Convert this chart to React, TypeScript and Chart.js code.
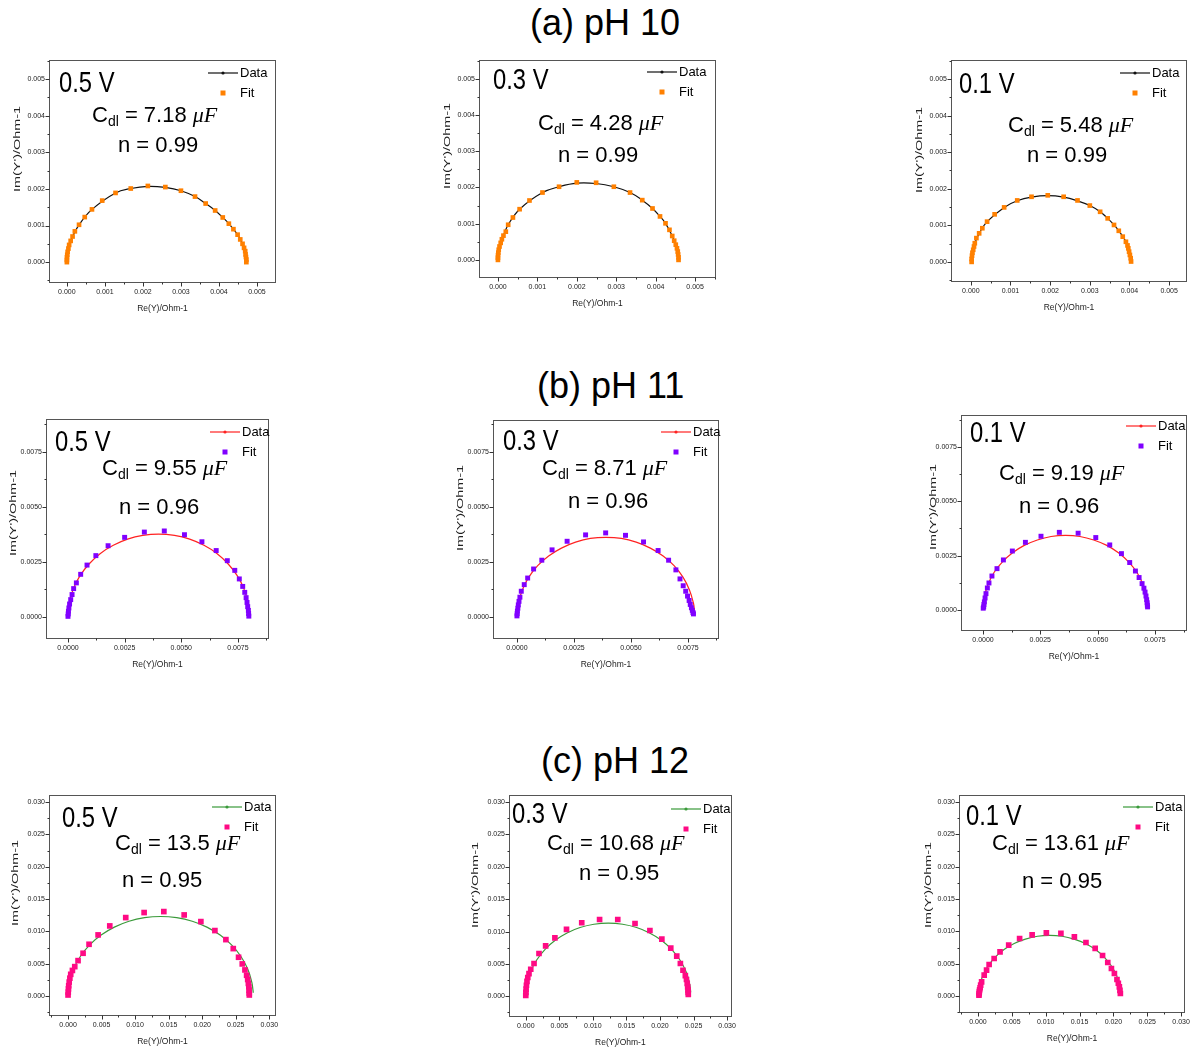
import { useEffect, useRef } from "react";
import { Chart, registerables } from "chart.js";

Chart.register(...registerables);

type Pt = [number, number];

const SANS = "'Liberation Sans', Arial, Helvetica, sans-serif";
const SERIF = "'Liberation Serif', 'Times New Roman', serif";

// ---------- (a) pH 10 : admittance data and fit, [Re(Y), Im(Y)] ----------
const ph10V05Data: Pt[] = [
  [0, 0], [0.000003, 0.00013], [0.00002, 0.00028], [0.00006, 0.00047], [0.00015, 0.0007],
  [0.00032, 0.00102], [0.00066, 0.00144], [0.00128, 0.00189], [0.00168, 0.00201], [0.00213, 0.00207],
  [0.00259, 0.00204], [0.003, 0.00195], [0.00337, 0.00179], [0.00365, 0.0016], [0.0039, 0.00141],
  [0.0041, 0.00122], [0.00426, 0.00105], [0.00449, 0.00075], [0.00462, 0.0005], [0.00469, 0.0003],
  [0.00471, 0.00014], [0.00472, 0],
];
const ph10V05Fit: Pt[] = [
  [0, 0], [0, 0.00006], [0.000003, 0.00013], [0.00001, 0.0002], [0.00002, 0.00028], [0.00004, 0.00037],
  [0.00006, 0.00047], [0.0001, 0.00058], [0.00015, 0.0007], [0.00021, 0.00084], [0.00032, 0.00102],
  [0.00047, 0.00123], [0.00066, 0.00144], [0.00093, 0.00168], [0.00128, 0.00189], [0.00168, 0.00201],
  [0.00213, 0.00208], [0.00259, 0.00205], [0.003, 0.00195], [0.00337, 0.00179], [0.00365, 0.0016],
  [0.0039, 0.00141], [0.0041, 0.00122], [0.00426, 0.00105], [0.00438, 0.0009], [0.00449, 0.00075],
  [0.00456, 0.00062], [0.00462, 0.0005], [0.00466, 0.00039], [0.00469, 0.0003], [0.0047, 0.00021],
  [0.00471, 0.00014], [0.00472, 0.00007], [0.00472, 0],
];

const ph10V03Data: Pt[] = [
  [0, 0], [0.000003, 0.00013], [0.00002, 0.00028], [0.00007, 0.00047], [0.00014, 0.00067],
  [0.00026, 0.00097], [0.00055, 0.0014], [0.00113, 0.00186], [0.00155, 0.00202], [0.002, 0.00212],
  [0.00249, 0.00211], [0.00294, 0.00202], [0.00335, 0.00186], [0.00366, 0.00165], [0.00392, 0.00142],
  [0.00411, 0.0012], [0.00425, 0.00101], [0.00442, 0.00066], [0.00451, 0.00042], [0.00456, 0.00023],
  [0.00458, 0.00007], [0.00458, 0],
];
const ph10V03Fit: Pt[] = [
  [0, 0], [0, 0.00006], [0.000003, 0.00013], [0.00001, 0.0002], [0.00002, 0.00028], [0.00004, 0.00037],
  [0.00007, 0.00047], [0.0001, 0.00057], [0.00014, 0.00067], [0.0002, 0.00078], [0.00026, 0.00097],
  [0.00038, 0.00117], [0.00055, 0.0014], [0.0008, 0.00164], [0.00113, 0.00186], [0.00155, 0.00202],
  [0.002, 0.00214], [0.00249, 0.00213], [0.00294, 0.00202], [0.00335, 0.00186], [0.00366, 0.00165],
  [0.00392, 0.00142], [0.00411, 0.0012], [0.00425, 0.00101], [0.00435, 0.00083], [0.00442, 0.00066],
  [0.00447, 0.00053], [0.00451, 0.00042], [0.00454, 0.00032], [0.00456, 0.00023], [0.00457, 0.00015],
  [0.00458, 0.00007], [0.00458, 0],
];

const ph10V01Data: Pt[] = [
  [0.00001, 0], [0.00002, 0.00008], [0.00004, 0.00025], [0.0001, 0.00051], [0.00021, 0.00078],
  [0.00041, 0.0011], [0.00084, 0.00149], [0.00117, 0.00167], [0.00153, 0.00177], [0.00194, 0.00181],
  [0.00234, 0.00177], [0.00269, 0.00167], [0.003, 0.00154], [0.00326, 0.00137], [0.00345, 0.00119],
  [0.00361, 0.00101], [0.00373, 0.00085], [0.00391, 0.00055], [0.00399, 0.00028], [0.00403, 0.0001],
  [0.00404, 0],
];
const ph10V01Fit: Pt[] = [
  [0.00002, 0], [0.00002, 0.00008], [0.00003, 0.00017], [0.00004, 0.00025], [0.00006, 0.00033],
  [0.00008, 0.00042], [0.0001, 0.00051], [0.00014, 0.00065], [0.00021, 0.00078], [0.00029, 0.00092],
  [0.00041, 0.0011], [0.0006, 0.0013], [0.00084, 0.00149], [0.00117, 0.00168], [0.00153, 0.00178],
  [0.00194, 0.00182], [0.00234, 0.00178], [0.00269, 0.00168], [0.003, 0.00154], [0.00326, 0.00137],
  [0.00345, 0.00119], [0.00361, 0.00101], [0.00373, 0.00085], [0.00383, 0.00069], [0.00391, 0.00055],
  [0.00395, 0.00045], [0.00397, 0.00037], [0.00399, 0.00028], [0.00401, 0.00019], [0.00403, 0.0001],
  [0.00404, 0.00001],
];

// ---------- (b) pH 11 ----------
const ph11V05Data: Pt[] = [
  [0, 0], [0.000015, 0.00033], [0.00006, 0.00065], [0.00024, 0.00129], [0.00054, 0.00189],
  [0.00094, 0.00242], [0.00143, 0.00289], [0.002, 0.00326], [0.00263, 0.00354], [0.0033, 0.00371],
  [0.004, 0.00377], [0.0047, 0.00371], [0.00537, 0.00354], [0.006, 0.00326], [0.00657, 0.00289],
  [0.00706, 0.00242], [0.00746, 0.00189], [0.00776, 0.00129], [0.00794, 0.00065], [0.00798, 0.00033],
  [0.008, 0],
];
const ph11V05Fit: Pt[] = [
  [0, 0.00003], [0.00001, 0.00014], [0.00002, 0.00026], [0.00004, 0.00041], [0.00007, 0.00059],
  [0.00012, 0.00079], [0.00018, 0.00102], [0.00025, 0.00129], [0.00037, 0.00155], [0.00056, 0.00194],
  [0.00084, 0.00236], [0.00123, 0.00279], [0.00177, 0.00324], [0.0025, 0.00362], [0.00337, 0.00386],
  [0.00425, 0.00391], [0.00514, 0.00374], [0.00591, 0.00342], [0.00654, 0.00302], [0.00703, 0.00256],
  [0.00736, 0.00212], [0.00756, 0.00173], [0.00771, 0.00139], [0.0078, 0.00112], [0.00786, 0.00088],
  [0.0079, 0.00066], [0.00793, 0.00047], [0.00796, 0.0003], [0.00797, 0.00016], [0.00798, 0.00004],
];

const ph11V03Data: Pt[] = [
  [0, 0], [0.000015, 0.00032], [0.00006, 0.00063], [0.00024, 0.00124], [0.00052, 0.00181],
  [0.00091, 0.00233], [0.00139, 0.00277], [0.00195, 0.00313], [0.00257, 0.0034], [0.00322, 0.00357],
  [0.0039, 0.00362], [0.00458, 0.00357], [0.00523, 0.0034], [0.00585, 0.00313], [0.00641, 0.00277],
  [0.00689, 0.00233], [0.00728, 0.00181], [0.00756, 0.00124], [0.00774, 0.00063], [0.00778, 0.00032],
  [0.00779, 0.00018],
];
const ph11V03Fit: Pt[] = [
  [0, 0.00005], [0.00001, 0.00015], [0.00002, 0.00027], [0.00004, 0.0004], [0.00006, 0.00055],
  [0.00009, 0.00071], [0.00013, 0.0009], [0.00019, 0.00117], [0.00032, 0.00147], [0.00047, 0.00177],
  [0.00073, 0.00218], [0.00109, 0.00258], [0.00154, 0.00305], [0.0022, 0.00344], [0.00301, 0.00373],
  [0.00389, 0.00382], [0.00476, 0.00371], [0.00555, 0.00341], [0.00619, 0.00302], [0.00665, 0.00258],
  [0.00697, 0.00214], [0.00715, 0.00173], [0.00729, 0.00142], [0.0074, 0.00117], [0.00748, 0.00095],
  [0.00755, 0.00075], [0.0076, 0.00057], [0.00765, 0.00042], [0.00769, 0.0003], [0.00772, 0.0002],
  [0.00774, 0.00014],
];

const ph11V01Data: Pt[] = [
  [0, 0.00005], [0.000014, 0.0003], [0.000055, 0.0006], [0.00022, 0.00117], [0.00048, 0.00172],
  [0.00084, 0.0022], [0.00129, 0.00263], [0.0018, 0.00297], [0.00237, 0.00322], [0.00297, 0.00338],
  [0.0036, 0.00343], [0.00423, 0.00338], [0.00483, 0.00322], [0.0054, 0.00297], [0.00591, 0.00263],
  [0.00636, 0.0022], [0.00672, 0.00172], [0.00698, 0.00117], [0.00715, 0.0006], [0.00719, 0.0003],
  [0.0072, 0.00014],
];
const ph11V01Fit: Pt[] = [
  [0.00001, 0.00008], [0.00003, 0.00014], [0.00004, 0.00025], [0.00006, 0.00037], [0.00009, 0.00055],
  [0.00013, 0.00075], [0.00019, 0.00101], [0.00026, 0.00124], [0.00039, 0.00156], [0.00061, 0.0019],
  [0.00089, 0.0023], [0.00128, 0.00271], [0.00185, 0.00311], [0.00253, 0.00339], [0.00333, 0.00357],
  [0.00415, 0.00353], [0.00492, 0.00333], [0.00553, 0.00299], [0.00604, 0.00259], [0.0064, 0.00218],
  [0.00665, 0.00179], [0.00681, 0.00149], [0.00694, 0.00121], [0.00702, 0.001], [0.00707, 0.00082],
  [0.00711, 0.00064], [0.00714, 0.00047], [0.00716, 0.00033], [0.00717, 0.00022], [0.00718, 0.00014],
];

// ---------- (c) pH 12 ----------
const ph12V05Data: Pt[] = [
  [0, 0], [0.00005, 0.00107], [0.00021, 0.00214], [0.00083, 0.00421], [0.00185, 0.00615],
  [0.00323, 0.00791], [0.00493, 0.00942], [0.0069, 0.01065], [0.00908, 0.01156], [0.0114, 0.01211],
  [0.0138, 0.0123], [0.0162, 0.01211], [0.01852, 0.01156], [0.0207, 0.01065], [0.02267, 0.00942],
  [0.02437, 0.00791], [0.02575, 0.00615], [0.02677, 0.00421], [0.02739, 0.00214], [0.02755, 0.00107],
  [0.02761, 0.0005],
];
const ph12V05Fit: Pt[] = [
  [0, 0.00015], [0.00003, 0.0006], [0.00006, 0.0011], [0.0001, 0.00158], [0.00017, 0.00215],
  [0.00027, 0.00275], [0.0004, 0.00335], [0.00065, 0.00395], [0.001, 0.00454], [0.00149, 0.00547],
  [0.00224, 0.00661], [0.00313, 0.008], [0.00448, 0.00945], [0.00622, 0.01084], [0.0086, 0.01213],
  [0.01134, 0.01291], [0.01428, 0.01306], [0.01731, 0.01254], [0.0198, 0.01151], [0.02189, 0.01012],
  [0.02353, 0.00872], [0.02463, 0.00733], [0.02542, 0.00599], [0.02597, 0.00496], [0.02637, 0.00403],
  [0.02662, 0.0032], [0.02678, 0.00255], [0.02688, 0.00195], [0.02695, 0.0014], [0.02699, 0.0009],
  [0.02701, 0.00045], [0.02702, 0.00015],
];

const ph12V03Data: Pt[] = [
  [0, 0], [0.00005, 0.00098], [0.00019, 0.00196], [0.00074, 0.00386], [0.00165, 0.00565],
  [0.00288, 0.00726], [0.00439, 0.00866], [0.00615, 0.00979], [0.00809, 0.01062], [0.01016, 0.01113],
  [0.0123, 0.0113], [0.01444, 0.01113], [0.01651, 0.01062], [0.01845, 0.00979], [0.02021, 0.00866],
  [0.02172, 0.00726], [0.02295, 0.00565], [0.02386, 0.00386], [0.02441, 0.00196], [0.02455, 0.00098],
  [0.02458, 0.0006],
];
const ph12V03Fit: Pt[] = [
  [0, 0.00015], [0.00002, 0.0006], [0.00005, 0.0011], [0.0001, 0.0017], [0.00018, 0.0023],
  [0.0003, 0.0029], [0.00048, 0.0035], [0.00074, 0.00418], [0.00123, 0.00506], [0.00197, 0.00661],
  [0.00296, 0.0078], [0.00434, 0.00903], [0.00607, 0.01033], [0.00834, 0.01136], [0.011, 0.01187],
  [0.01371, 0.01187], [0.01628, 0.01125], [0.0185, 0.01017], [0.02028, 0.00883], [0.02161, 0.00743],
  [0.0225, 0.0062], [0.02304, 0.00506], [0.02343, 0.00403], [0.02378, 0.0032], [0.02395, 0.0026],
  [0.02406, 0.002], [0.02413, 0.00145], [0.02418, 0.001], [0.0242, 0.0006], [0.02422, 0.0003],
];

const ph12V01Data: Pt[] = [
  [0.0001, 0], [0.00014, 0.00082], [0.00026, 0.00163], [0.00073, 0.00321], [0.00151, 0.0047],
  [0.00256, 0.00604], [0.00385, 0.0072], [0.00535, 0.00814], [0.00701, 0.00883], [0.00878, 0.00926],
  [0.0106, 0.0094], [0.01242, 0.00926], [0.01419, 0.00883], [0.01585, 0.00814], [0.01735, 0.0072],
  [0.01864, 0.00604], [0.01969, 0.0047], [0.02047, 0.00321], [0.02094, 0.00163], [0.02106, 0.00082],
  [0.0211, 0.0002],
];
const ph12V01Fit: Pt[] = [
  [0.00015, 0.00015], [0.00017, 0.0004], [0.0002, 0.0007], [0.00025, 0.001], [0.00032, 0.0013],
  [0.0004, 0.0017], [0.00054, 0.00221], [0.00092, 0.00325], [0.00127, 0.00402], [0.00165, 0.0049],
  [0.00239, 0.00583], [0.00326, 0.00685], [0.00454, 0.00789], [0.00615, 0.00892], [0.008, 0.00948],
  [0.0101, 0.00979], [0.01225, 0.0097], [0.01424, 0.00917], [0.01595, 0.0083], [0.01731, 0.00738],
  [0.0184, 0.00629], [0.01917, 0.00521], [0.01971, 0.00428], [0.02015, 0.00351], [0.02053, 0.00258],
  [0.02073, 0.002], [0.02088, 0.00144], [0.02097, 0.0009], [0.02103, 0.00042],
];

// ---------- axis ticks and labels ----------
const ticksPH10 = [0, 0.001, 0.002, 0.003, 0.004, 0.005];
const ticksPH11 = [0, 0.0025, 0.005, 0.0075];
const ticksPH12 = [0, 0.005, 0.01, 0.015, 0.02, 0.025, 0.03];
const tickDecimals = [3, 4, 3];

const sectionTitles = ["(a) pH 10", "(b) pH 11", "(c) pH 12"];
const potentials = ["0.5 V", "0.3 V", "0.1 V"];
const cdlValues = ["7.18", "4.28", "5.48", "9.55", "8.71", "9.19", "13.5", "10.68", "13.61"];
const nValues = ["0.99", "0.99", "0.99", "0.96", "0.96", "0.96", "0.95", "0.95", "0.95"];
const xAxisTitle = "Re(Y)/Ohm-1";
const yAxisTitle = "Im(Y')/Ohm-1";
const seriesNames = ["Data", "Fit"];

const lineColors = ["#111111", "#ff2222", "#3a9a3a"];
const fitColors = ["#ff8000", "#8000ff", "#ff0a84"];
const fitRadius = [3.3, 3.5, 4];

const panelSeries: { data: Pt[]; fit: Pt[] }[] = [
  { data: ph10V05Data, fit: ph10V05Fit },
  { data: ph10V03Data, fit: ph10V03Fit },
  { data: ph10V01Data, fit: ph10V01Fit },
  { data: ph11V05Data, fit: ph11V05Fit },
  { data: ph11V03Data, fit: ph11V03Fit },
  { data: ph11V01Data, fit: ph11V01Fit },
  { data: ph12V05Data, fit: ph12V05Fit },
  { data: ph12V03Data, fit: ph12V03Fit },
  { data: ph12V01Data, fit: ph12V01Fit },
];
const rowTicks = [ticksPH10, ticksPH11, ticksPH12];

// ---------- page layout (pixels) ----------
interface PanelLayout {
  frame: [number, number, number, number]; // left, top, right, bottom of the plot box
  xRange: [number, number];
  yRange: [number, number];
  yTitle: [number, number]; // centre of the rotated y-axis title
  vPos: [number, number];
  cdlPos: [number, number];
  nPos: [number, number];
  legendPos: [number, number];
}

const layouts: PanelLayout[] = [
  { frame: [49, 60, 276, 283], xRange: [-0.00047, 0.0055], yRange: [-0.00057, 0.00552], yTitle: [17, 149], vPos: [59, 92], cdlPos: [92, 122], nPos: [118, 152], legendPos: [208, 73] },
  { frame: [479, 60, 716, 278], xRange: [-0.00048, 0.00553], yRange: [-0.0005, 0.00552], yTitle: [447, 146], vPos: [493, 89], cdlPos: [538, 130], nPos: [558, 162], legendPos: [647, 72] },
  { frame: [951, 60, 1187, 282], xRange: [-0.0005, 0.00545], yRange: [-0.00055, 0.00552], yTitle: [919, 150], vPos: [959, 93], cdlPos: [1008, 132], nPos: [1027, 162], legendPos: [1120, 73] },
  { frame: [46, 419, 269, 639], xRange: [-0.00097, 0.00887], yRange: [-0.001, 0.009], yTitle: [13, 513], vPos: [55, 451], cdlPos: [102, 475], nPos: [119, 514], legendPos: [210, 432] },
  { frame: [493, 420, 719, 639], xRange: [-0.00105, 0.00886], yRange: [-0.001, 0.00895], yTitle: [460, 508], vPos: [503, 450], cdlPos: [542, 475], nPos: [568, 508], legendPos: [661, 432] },
  { frame: [961, 415, 1187, 631], xRange: [-0.00096, 0.0089], yRange: [-0.00097, 0.00897], yTitle: [933, 507], vPos: [970, 442], cdlPos: [999, 480], nPos: [1019, 513], legendPos: [1126, 426] },
  { frame: [49, 795, 276, 1016], xRange: [-0.00284, 0.031], yRange: [-0.0031, 0.0311], yTitle: [15, 883], vPos: [62, 827], cdlPos: [115, 850], nPos: [122, 887], legendPos: [212, 807] },
  { frame: [509, 795, 733, 1017], xRange: [-0.0025, 0.0307], yRange: [-0.0032, 0.0311], yTitle: [475, 885], vPos: [512, 823], cdlPos: [547, 850], nPos: [579, 880], legendPos: [671, 809] },
  { frame: [959, 795, 1187, 1013], xRange: [-0.0028, 0.0306], yRange: [-0.0026, 0.0311], yTitle: [928, 885], vPos: [966, 825], cdlPos: [992, 850], nPos: [1022, 888], legendPos: [1123, 807] },
];

const titleLayout = [
  { left: 530, top: 4.5 },
  { left: 537, top: 367.5 },
  { left: 541, top: 742.5 },
];

const Y_W = 40;
const X_H = 32;
const PAD_T = 10;
const PAD_R = 8;
const Y_TITLE_LEN = 86;

function PanelChart({ idx }: { idx: number }) {
  const ref = useRef<HTMLCanvasElement | null>(null);
  const lay = layouts[idx];
  const row = Math.floor(idx / 3);
  const col = idx % 3;
  const [l, t, r, b] = lay.frame;
  const cLeft = l - Y_W;
  const cTop = t - PAD_T;
  const cW = r - l + Y_W + PAD_R;
  const cH = b - t + PAD_T + X_H;

  useEffect(() => {
    const canvas = ref.current;
    if (!canvas) return;
    const series = panelSeries[idx];
    const ticks = rowTicks[row];
    const dec = tickDecimals[row];
    const lineColor = lineColors[row];
    const fitColor = fitColors[row];

    const overlay = {
      id: "panelOverlay",
      afterDraw(chart: any) {
        const ctx: CanvasRenderingContext2D = chart.ctx;
        const a = chart.chartArea;
        const xs = chart.scales.x;
        const ys = chart.scales.y;
        ctx.save();

        // plot box
        ctx.strokeStyle = "#555";
        ctx.lineWidth = 1;
        ctx.strokeRect(
          Math.round(a.left) + 0.5,
          Math.round(a.top) + 0.5,
          Math.round(a.right - a.left) - 1,
          Math.round(a.bottom - a.top) - 1
        );

        // outward major and minor tick marks on the bottom and left sides
        const step = ticks[1] - ticks[0];
        const minors: number[] = [];
        for (let k = -1; k < ticks.length; k++) minors.push(ticks[0] + (k + 0.5) * step);
        ctx.strokeStyle = "#333";
        ctx.beginPath();
        const yb = Math.round(a.bottom) - 0.5;
        const xl = Math.round(a.left) + 0.5;
        ticks.forEach((v) => {
          if (v >= xs.min && v <= xs.max) {
            const px = Math.round(xs.getPixelForValue(v)) + 0.5;
            ctx.moveTo(px, yb);
            ctx.lineTo(px, yb + 4);
          }
          if (v >= ys.min && v <= ys.max) {
            const py = Math.round(ys.getPixelForValue(v)) + 0.5;
            ctx.moveTo(xl, py);
            ctx.lineTo(xl - 4, py);
          }
        });
        minors.forEach((v) => {
          if (v > xs.min && v < xs.max) {
            const px = Math.round(xs.getPixelForValue(v)) + 0.5;
            ctx.moveTo(px, yb);
            ctx.lineTo(px, yb + 2);
          }
          if (v > ys.min && v < ys.max) {
            const py = Math.round(ys.getPixelForValue(v)) + 0.5;
            ctx.moveTo(xl, py);
            ctx.lineTo(xl - 2, py);
          }
        });
        ctx.stroke();

        // rotated y-axis title, stretched along its length
        ctx.save();
        ctx.fillStyle = "#222";
        ctx.font = `9.5px ${SANS}`;
        const tw = ctx.measureText(yAxisTitle).width;
        ctx.translate(lay.yTitle[0] - cLeft, lay.yTitle[1] - cTop);
        ctx.rotate(-Math.PI / 2);
        ctx.scale(Y_TITLE_LEN / tw, 1);
        ctx.textAlign = "center";
        ctx.textBaseline = "middle";
        ctx.fillText(yAxisTitle, 0, 0);
        ctx.restore();

        // annotations
        ctx.fillStyle = "#000";
        ctx.textAlign = "left";
        ctx.textBaseline = "alphabetic";

        // potential label (condensed)
        ctx.save();
        ctx.translate(lay.vPos[0] - cLeft, lay.vPos[1] - cTop);
        ctx.scale(0.82, 1);
        ctx.font = `29px ${SANS}`;
        ctx.fillText(potentials[col], 0, 0);
        ctx.restore();

        // C_dl = value μF
        let x = lay.cdlPos[0] - cLeft;
        const y = lay.cdlPos[1] - cTop;
        ctx.font = `22px ${SANS}`;
        ctx.fillText("C", x, y);
        x += ctx.measureText("C").width;
        ctx.font = `14px ${SANS}`;
        ctx.fillText("dl", x, y + 4);
        x += ctx.measureText("dl").width;
        ctx.font = `22px ${SANS}`;
        const mid = ` = ${cdlValues[idx]} `;
        ctx.fillText(mid, x, y);
        x += ctx.measureText(mid).width;
        ctx.font = `italic 22px ${SERIF}`;
        ctx.fillText("μF", x, y);

        // n = value
        ctx.font = `22px ${SANS}`;
        ctx.fillText(`n = ${nValues[idx]}`, lay.nPos[0] - cLeft, lay.nPos[1] - cTop);

        // legend
        const lx = lay.legendPos[0] - cLeft;
        const ly = lay.legendPos[1] - cTop;
        const ds = chart.data.datasets;
        ctx.strokeStyle = ds[0].borderColor;
        ctx.lineWidth = 1.2;
        ctx.beginPath();
        ctx.moveTo(lx, ly);
        ctx.lineTo(lx + 30, ly);
        ctx.stroke();
        ctx.fillStyle = ds[0].borderColor;
        ctx.beginPath();
        ctx.arc(lx + 15, ly, 1.6, 0, Math.PI * 2);
        ctx.fill();
        ctx.fillStyle = ds[1].backgroundColor;
        ctx.fillRect(lx + 15 - 2.5, ly + 20 - 2.5, 5, 5);
        ctx.fillStyle = "#000";
        ctx.font = `13px ${SANS}`;
        ctx.textBaseline = "middle";
        ctx.fillText(ds[0].label, lx + 32, ly + 0.5);
        ctx.fillText(ds[1].label, lx + 32, ly + 20.5);

        ctx.restore();
      },
    };

    const tickFont = { family: SANS, size: 7 };
    const chart = new Chart(canvas, {
      type: "scatter",
      data: {
        datasets: [
          {
            label: seriesNames[0],
            data: series.data.map(([px, py]) => ({ x: px, y: py })),
            showLine: true,
            borderColor: lineColor,
            backgroundColor: lineColor,
            borderWidth: 1.2,
            pointRadius: 0,
            tension: 0.4,
            fill: false,
            order: 1,
          },
          {
            label: seriesNames[1],
            data: series.fit.map(([px, py]) => ({ x: px, y: py })),
            showLine: false,
            pointStyle: "rect",
            pointRadius: fitRadius[row],
            backgroundColor: fitColor,
            borderColor: fitColor,
            borderWidth: 0,
            order: 0,
          },
        ],
      },
      options: {
        responsive: false,
        maintainAspectRatio: false,
        animation: false,
        layout: { padding: { left: 0, top: PAD_T, right: PAD_R, bottom: 0 } },
        plugins: { legend: { display: false }, tooltip: { enabled: false } },
        scales: {
          x: {
            type: "linear",
            position: "bottom",
            min: lay.xRange[0],
            max: lay.xRange[1],
            afterBuildTicks: (s: any) => {
              s.ticks = ticks.map((v) => ({ value: v }));
            },
            afterFit: (s: any) => {
              s.height = X_H;
            },
            grid: { display: false, drawTicks: false },
            border: { display: false },
            ticks: {
              autoSkip: false,
              maxRotation: 0,
              padding: 5,
              font: tickFont,
              color: "#222",
              callback: (v: any) => Number(v).toFixed(dec),
            },
            title: {
              display: true,
              text: xAxisTitle,
              color: "#222",
              font: { family: SANS, size: 8.5 },
              padding: { top: 0, bottom: 1 },
            },
          },
          y: {
            type: "linear",
            position: "left",
            min: lay.yRange[0],
            max: lay.yRange[1],
            afterBuildTicks: (s: any) => {
              s.ticks = ticks.map((v) => ({ value: v }));
            },
            afterFit: (s: any) => {
              s.width = Y_W;
            },
            grid: { display: false, drawTicks: false },
            border: { display: false },
            ticks: {
              autoSkip: false,
              padding: 4,
              font: tickFont,
              color: "#222",
              callback: (v: any) => Number(v).toFixed(dec),
            },
            title: { display: false },
          },
        },
      },
      plugins: [overlay],
    } as any);
    return () => chart.destroy();
  }, [idx]);

  return (
    <canvas
      ref={ref}
      width={cW}
      height={cH}
      style={{ position: "absolute", left: cLeft, top: cTop, width: cW, height: cH }}
    />
  );
}

export default function App() {
  return (
    <div
      style={{
        position: "absolute",
        left: 0,
        top: 0,
        width: 1194,
        height: 1050,
        overflow: "hidden",
        background: "#fff",
      }}
    >
      {sectionTitles.map((txt, i) => (
        <div
          key={txt}
          style={{
            position: "absolute",
            left: titleLayout[i].left,
            top: titleLayout[i].top,
            fontFamily: SANS,
            fontSize: 36,
            lineHeight: "36px",
            color: "#000",
            whiteSpace: "nowrap",
          }}
        >
          {txt}
        </div>
      ))}
      {layouts.map((_, i) => (
        <PanelChart key={i} idx={i} />
      ))}
    </div>
  );
}
